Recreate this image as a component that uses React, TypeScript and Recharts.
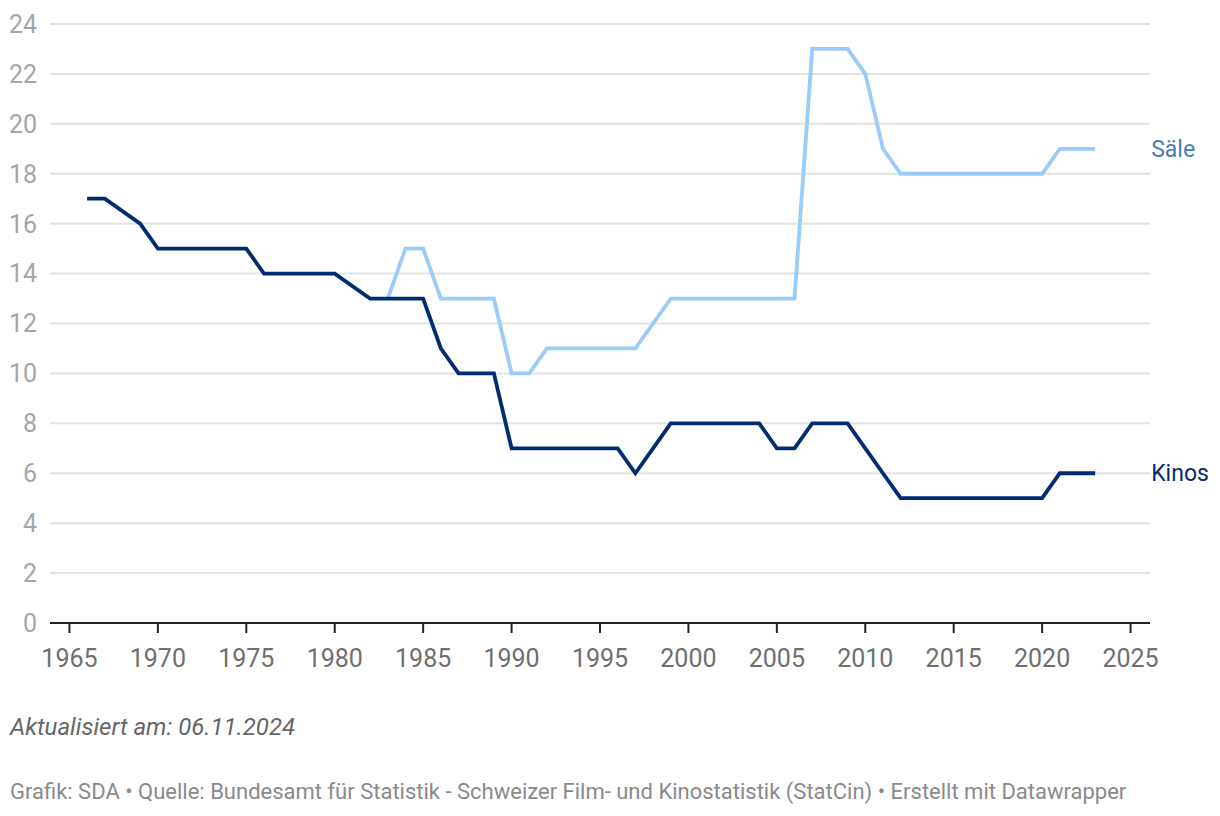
import React from "react";
import { LineChart, Line, XAxis, YAxis, CartesianGrid, ReferenceDot } from "recharts";

const years = [
  1966, 1967, 1968, 1969, 1970, 1971, 1972, 1973, 1974, 1975, 1976, 1977, 1978, 1979, 1980,
  1981, 1982, 1983, 1984, 1985, 1986, 1987, 1988, 1989, 1990, 1991, 1992, 1993, 1994, 1995,
  1996, 1997, 1998, 1999, 2000, 2001, 2002, 2003, 2004, 2005, 2006, 2007, 2008, 2009, 2010,
  2011, 2012, 2013, 2014, 2015, 2016, 2017, 2018, 2019, 2020, 2021, 2022, 2023,
];

const kinos: (number | null)[] = [
  17, 17, null, 16, 15, 15, 15, 15, 15, 15, 14, 14, 14, 14, 14,
  null, 13, 13, 13, 13, 11, 10, 10, 10, 7, 7, 7, 7, 7, 7,
  7, 6, 7, 8, 8, 8, 8, 8, 8, 7, 7, 8, 8, 8, 7,
  6, 5, 5, 5, 5, 5, 5, 5, 5, 5, 6, 6, 6,
];

const saele: (number | null)[] = [
  null, null, null, null, null, null, null, null, null, null, null, null, null, null, null,
  null, null, 13, 15, 15, 13, 13, 13, 13, 10, 10, 11, 11, 11, 11,
  11, 11, 12, 13, 13, 13, 13, 13, 13, 13, 13, 23, 23, 23, 22,
  19, 18, 18, 18, 18, 18, 18, 18, 18, 18, 19, 19, 19,
];

const xTicks = [1965, 1970, 1975, 1980, 1985, 1990, 1995, 2000, 2005, 2010, 2015, 2020, 2025];
const yTicks = [0, 2, 4, 6, 8, 10, 12, 14, 16, 18, 20, 22, 24];

const seriesNames = { kinos: "Kinos", saele: "Säle" };
const note = "Aktualisiert am: 06.11.2024";
const footer =
  "Grafik: SDA • Quelle: Bundesamt für Statistik - Schweizer Film- und Kinostatistik (StatCin) • Erstellt mit Datawrapper";

const data = years.map((y, i) => ({ year: y, kinos: kinos[i], saele: saele[i] }));
const lastYear = years[years.length - 1];
const lastKinos = kinos[kinos.length - 1] as number;
const lastSaele = saele[saele.length - 1] as number;

const FONT = "Roboto, 'Noto Sans', sans-serif";

const endLabel = (text: string, color: string) => (props: any) => {
  const { cx, cy } = props;
  return (
    <text
      x={cx + 56}
      y={cy}
      dy="0.35em"
      textAnchor="start"
      fill={color}
      fontSize={23}
      fontFamily={FONT}
    >
      {text}
    </text>
  );
};

export default function App() {
  return (
    <div
      style={{
        position: "absolute",
        left: 0,
        top: 0,
        width: 1220,
        height: 816,
        background: "#fff",
        fontFamily: FONT,
      }}
    >
      <LineChart
        width={1220}
        height={700}
        data={data}
        margin={{ top: 24, right: 70, left: 0, bottom: 0 }}
      >
        <CartesianGrid vertical={false} stroke="#e3e3e3" strokeWidth={2} />
        <XAxis
          dataKey="year"
          type="number"
          domain={[1963.9, 2026.1]}
          ticks={xTicks}
          allowDataOverflow
          stroke="#222"
          strokeWidth={2}
          tickSize={10}
          tickMargin={16}
          tick={{ fill: "#6f6f6f", fontSize: 25, fontFamily: FONT }}
          height={77}
        />
        <YAxis
          type="number"
          domain={[0, 24]}
          ticks={yTicks}
          width={50}
          axisLine={false}
          tickLine={false}
          tickMargin={7}
          tick={{ fill: "#a6a6a6", fontSize: 25, fontFamily: FONT }}
        />
        <Line
          dataKey="saele"
          stroke="#9accfb"
          strokeWidth={3.8}
          strokeLinejoin="miter"
          connectNulls
          isAnimationActive={false}
          dot={false}
          activeDot={false}
        />
        <Line
          dataKey="kinos"
          stroke="#002d72"
          strokeWidth={3.8}
          strokeLinejoin="miter"
          connectNulls
          isAnimationActive={false}
          dot={false}
          activeDot={false}
        />
        <ReferenceDot
          x={lastYear}
          y={lastSaele}
          r={0}
          ifOverflow="visible"
          shape={endLabel(seriesNames.saele, "#4a7db5")}
        />
        <ReferenceDot
          x={lastYear}
          y={lastKinos}
          r={0}
          ifOverflow="visible"
          shape={endLabel(seriesNames.kinos, "#002d72")}
        />
      </LineChart>
      <div
        style={{
          position: "absolute",
          left: 10,
          top: 713,
          fontSize: 24,
          fontStyle: "italic",
          color: "#666",
          whiteSpace: "nowrap",
        }}
      >
        {note}
      </div>
      <div
        style={{
          position: "absolute",
          left: 10,
          top: 779,
          fontSize: 22,
          color: "#8a8a8a",
          whiteSpace: "nowrap",
        }}
      >
        {footer}
      </div>
    </div>
  );
}
